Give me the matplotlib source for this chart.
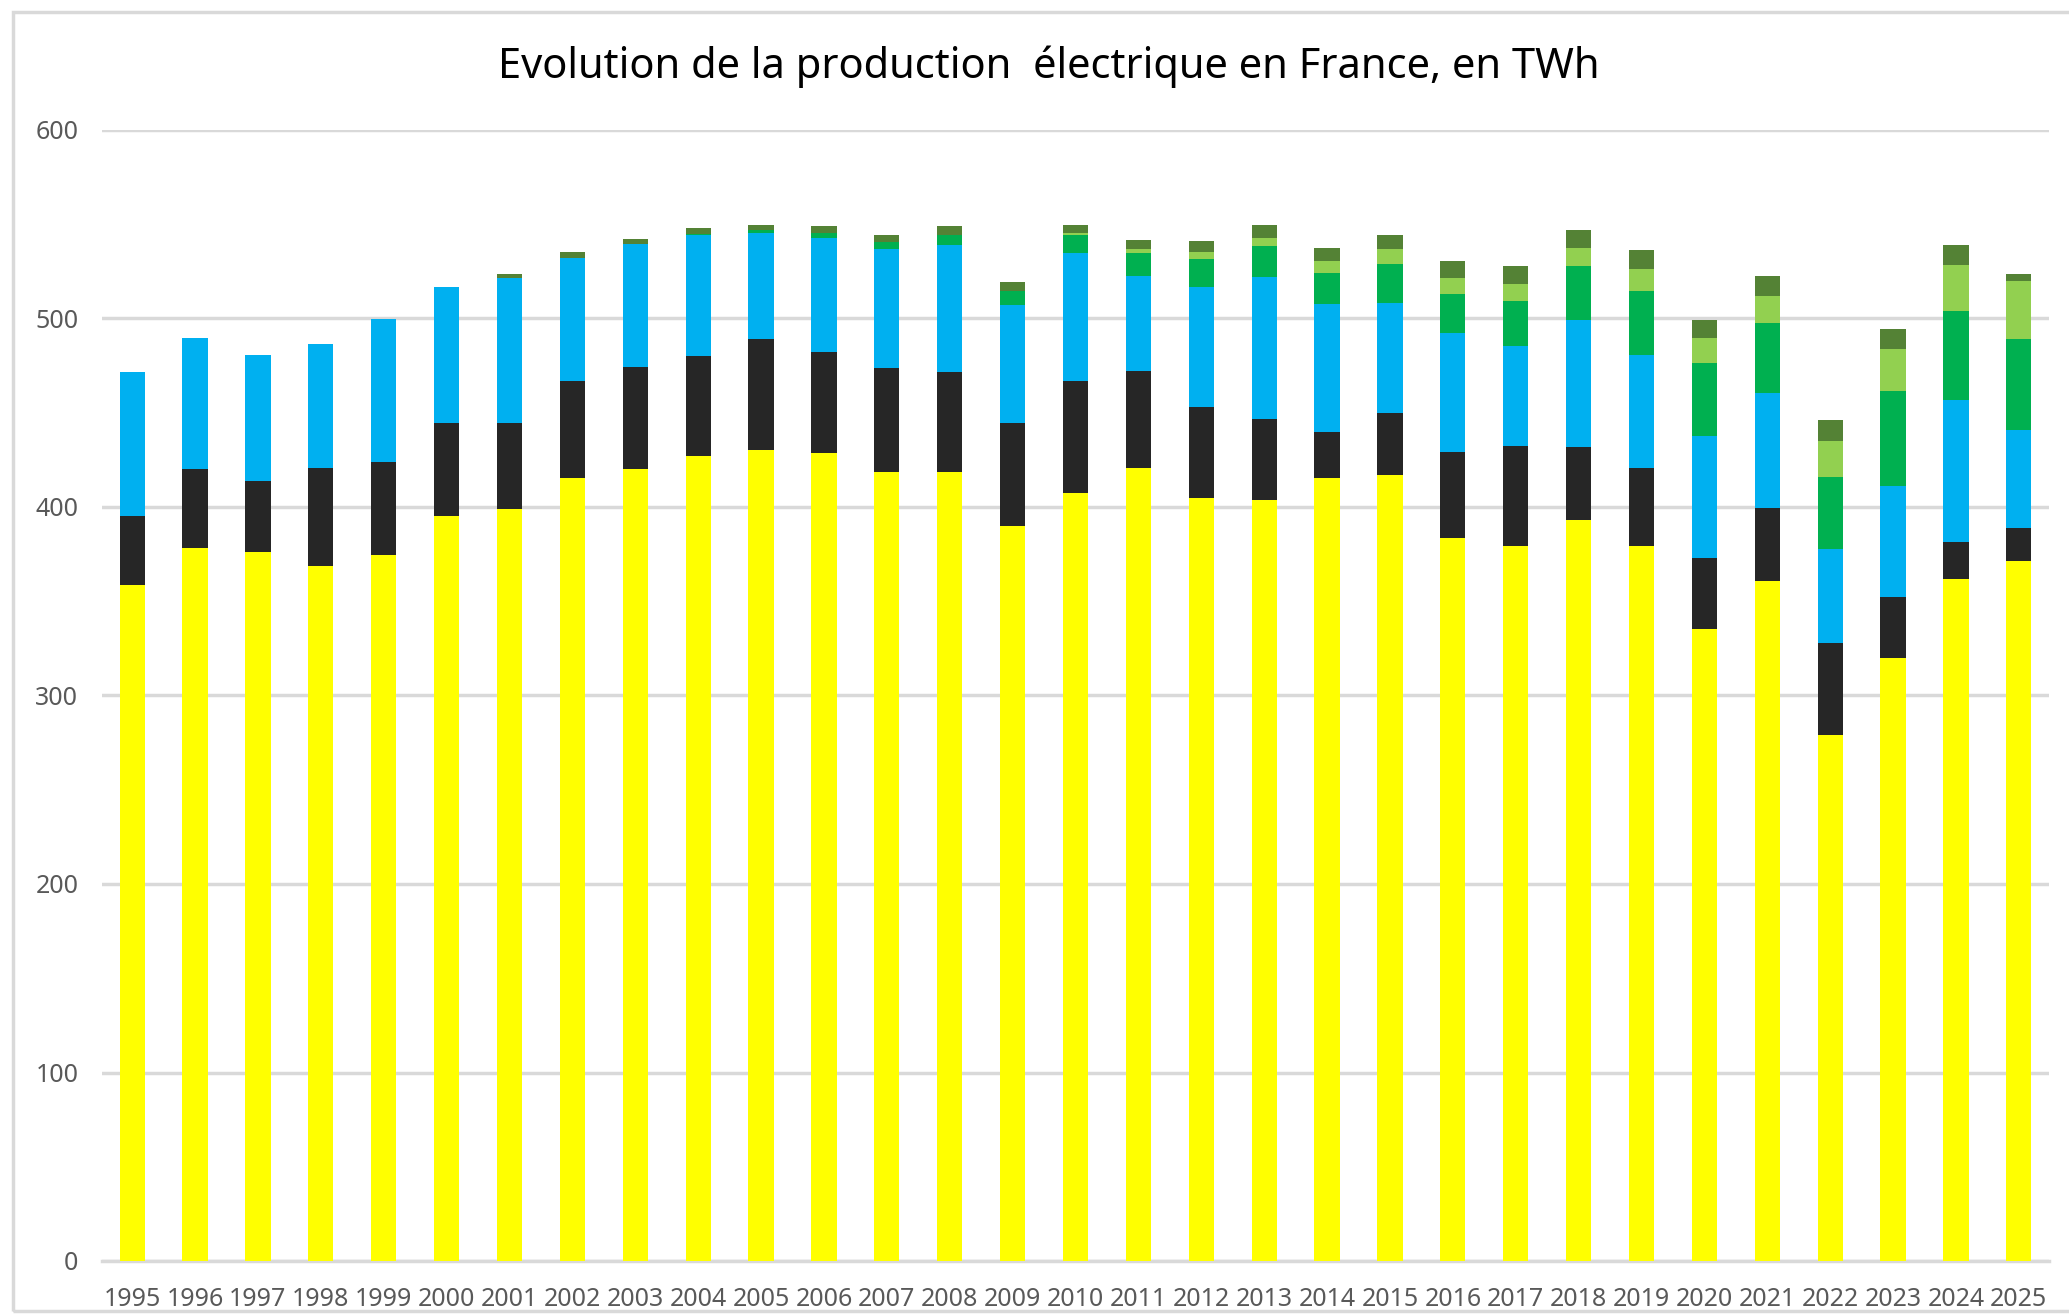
import numpy as np
import matplotlib
matplotlib.use('Agg')
import matplotlib.pyplot as plt
from matplotlib.patches import Rectangle

# production by source, TWh
years = [str(y) for y in range(1995, 2026)]

nucleaire = [358.4, 378.4, 376.0, 368.5, 374.5, 395.2, 399.1, 415.2, 420.0, 426.9,
             430.0, 428.4, 418.4, 418.4, 389.9, 407.6, 420.7, 404.6, 403.7, 415.2,
             416.8, 383.7, 379.2, 393.0, 379.2, 335.3, 360.5, 279.3, 319.9, 361.7, 371.5]
fossile = [36.8, 41.6, 37.8, 52.2, 49.2, 49.4, 45.5, 51.6, 54.4, 53.0,
           59.0, 53.8, 55.3, 53.2, 54.6, 59.2, 51.4, 48.2, 43.1, 24.7,
           33.3, 45.4, 53.0, 38.6, 41.4, 37.6, 38.8, 48.3, 32.3, 19.9, 17.6]
hydro = [76.3, 69.8, 66.7, 65.9, 76.2, 72.1, 76.9, 65.5, 64.9, 64.6,
         56.2, 60.7, 63.0, 67.4, 62.4, 67.7, 50.7, 63.8, 75.3, 67.6,
         58.2, 63.2, 53.2, 67.6, 60.1, 64.6, 61.1, 50.0, 58.7, 75.2, 51.6]
eolien = [0, 0, 0, 0, 0, 0, 0, 0, 0, 0.5,
          1.6, 2.2, 3.9, 5.3, 7.6, 9.8, 11.7, 14.7, 16.1, 16.9,
          20.7, 20.7, 23.7, 28.4, 33.7, 39.1, 37.2, 38.5, 50.7, 47.1, 48.3]
solaire = [0, 0, 0, 0, 0, 0, 0, 0, 0, 0,
           0, 0, 0, 0, 0, 0.9, 2.2, 3.9, 4.6, 6.1,
           7.8, 8.3, 9.2, 10.0, 11.6, 13.2, 14.6, 19.1, 22.2, 24.5, 30.9]
bio = [0, 0, 0, 0, 0, 0, 2.3, 2.8, 2.9, 3.2,
       3.0, 3.8, 3.9, 4.6, 4.6, 4.6, 5.2, 6.0, 7.0, 7.0,
       7.7, 9.4, 9.3, 9.3, 10.1, 9.2, 10.1, 10.8, 10.7, 10.8, 3.9]

series = [nucleaire, fossile, hydro, eolien, solaire, bio]
colors = ['#FFFF00', '#262626', '#00B0F0', '#00B050', '#92D050', '#548235']

plt.rcParams['font.family'] = ['Noto Sans', 'DejaVu Sans']

W, H = 2069, 1316
fig = plt.figure(figsize=(W / 100, H / 100), dpi=100)

# light grey chart border (right side is cut off in the original)
fig.patches.append(Rectangle((13 / W, 1 - 1311 / H), (W + 20) / W, (1311 - 12) / H,
                             transform=fig.transFigure, fill=False,
                             edgecolor='#D9D9D9', lw=2.5, zorder=0))

ax = fig.add_axes([102 / W, 1 - 1261 / H, (2049 - 102) / W, (1261 - 130) / H])

x = np.arange(len(years))
bottom = np.zeros(len(years))
for vals, c in zip(series, colors):
    vals = np.array(vals)
    ax.bar(x, vals, width=0.4, bottom=bottom, color=c, zorder=3)
    bottom += vals

ax.set_xlim(-0.48, len(years) - 0.52)
ax.set_ylim(0, 600)
ax.set_yticks(range(0, 601, 100))
ax.set_xticks(x)
ax.set_xticklabels(years)
ax.yaxis.grid(True, color='#D9D9D9', lw=2.5, zorder=0)
ax.tick_params(axis='both', length=0, labelsize=18, colors='#595959')
ax.tick_params(axis='x', pad=19)
ax.tick_params(axis='y', pad=17)
for s in ['top', 'right', 'left']:
    ax.spines[s].set_visible(False)
ax.spines['bottom'].set_color('#D9D9D9')
ax.spines['bottom'].set_linewidth(2.5)

fig.text(1049 / W, 1 - 67 / H, 'Evolution de la production  électrique en France, en TWh',
         ha='center', va='center', fontsize=30, color='black')

fig.savefig('out.png', dpi=100, facecolor='white')
